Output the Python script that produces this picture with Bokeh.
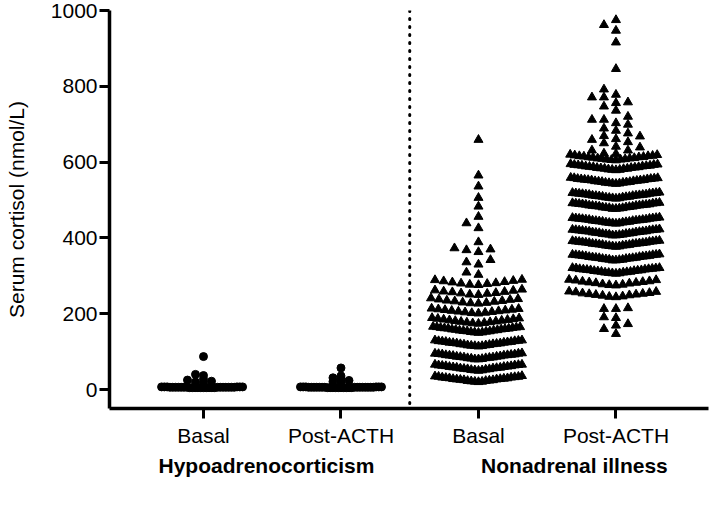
from bokeh.plotting import figure
from bokeh.models import Range1d, FixedTicker, Span, LinearAxis
from bokeh.embed import file_html
from bokeh.resources import INLINE

# ---------------- data ----------------
categories = ["Basal", "Post-ACTH", "Basal", "Post-ACTH"]
groups = ["Hypoadrenocorticism", "Nonadrenal illness"]
y_ticks = [0, 200, 400, 600, 800, 1000]

hypo_basal = [6, 5, 7, 6, 5, 6, 7, 5, 6, 6, 5, 7, 6, 5, 6, 7, 6, 5, 6, 5,
              7, 6, 6, 5, 6, 7, 5, 6, 6, 5,
              20, 22, 18, 25, 27, 37, 40, 87]
hypo_post = [6, 5, 7, 6, 5, 6, 7, 5, 6, 6, 5, 7, 6, 5, 6, 7, 6, 5, 6, 5,
             7, 6, 6, 5, 6, 7, 5, 6, 6, 5, 6,
             19, 21, 24, 28, 31, 36, 57]

nai_basal = [
    20, 21, 21, 22, 23, 23, 24, 25, 25, 26, 27, 27, 28, 28, 29, 30, 30, 31, 32, 32, 33, 34, 34, 35, 36,
    50, 51, 51, 52, 53, 54, 54, 55, 56, 56, 57, 58, 58, 59, 60, 60, 61, 62, 62, 63, 64, 64, 65, 66, 66,
    80, 80, 81, 82, 83, 83, 84, 85, 85, 86, 87, 87, 88, 89, 90, 90, 91, 91, 92, 93, 93, 94, 95, 95, 96,
    114, 115, 115, 116, 117, 117, 118, 119, 120, 120, 121, 122, 122, 123, 124, 124, 125, 126, 126, 127, 128, 128, 129, 130, 130,
    150, 151, 151, 152, 153, 154, 154, 155, 156, 156, 157, 158, 159, 159, 160, 161, 161, 162, 163, 163, 164, 165, 165, 166,
    174, 175, 176, 177, 178, 179, 180, 181, 182, 183, 184, 185, 186, 187, 188, 189,
    201, 202, 203, 204, 205, 206, 207, 208, 209, 210, 211, 212, 213, 214,
    227, 228, 229, 230, 232, 233, 234, 235, 237, 238, 239, 241,
    250, 251, 253, 254, 255, 257, 258, 259, 261, 262, 264,
    276, 277, 279, 280, 281, 283, 284, 286, 287, 289, 290,
    303, 309, 330, 336, 342, 363, 368, 370, 373, 389, 426, 439, 456, 483, 506, 536, 565, 659,
]

nai_post = [
    147, 160, 169, 173, 189, 191, 213, 213, 215,
    244, 245, 246, 248, 249, 250, 251, 252, 253, 254, 255, 257, 258, 259,
    275, 276, 277, 278, 280, 281, 282, 283, 284, 285, 286, 288, 289, 290,
    306, 307, 307, 308, 309, 309, 310, 311, 311, 312, 313, 313, 314, 315, 315, 316, 317, 317, 318, 318, 319, 320, 320, 321, 321,
    341, 341, 342, 343, 343, 344, 345, 345, 346, 347, 347, 348, 348, 349, 350, 350, 351, 352, 352, 353, 353, 354, 355, 355, 356, 356, 357,
    377, 378, 378, 379, 380, 380, 381, 382, 382, 383, 384, 384, 385, 385, 386, 387, 387, 388, 388, 389, 390, 390, 391, 391, 392, 392, 393,
    407, 407, 408, 409, 409, 410, 411, 411, 412, 413, 413, 414, 415, 415, 416, 417, 417, 418, 418, 419, 420, 420, 421, 421, 422, 422, 423,
    438, 439, 439, 440, 441, 441, 442, 443, 443, 444, 445, 445, 446, 446, 447, 448, 448, 449, 449, 450, 451, 451, 452, 452, 453, 453, 454,
    477, 477, 478, 479, 479, 480, 481, 481, 482, 483, 483, 484, 485, 485, 486, 486, 487, 488, 488, 489, 489, 490, 491, 491, 492, 492, 493,
    504, 505, 505, 506, 507, 507, 508, 509, 509, 510, 511, 511, 512, 512, 513, 514, 514, 515, 515, 516, 517, 517, 518, 518, 519, 519, 520,
    543, 544, 544, 545, 546, 546, 547, 548, 548, 549, 550, 550, 551, 552, 552, 553, 553, 554, 555, 555, 556, 556, 557, 558, 558, 559,
    579, 580, 580, 581, 582, 583, 583, 584, 585, 585, 586, 587, 587, 588, 589, 589, 590, 591, 591, 592, 593, 593, 594, 595,
    605, 606, 607, 607, 608, 609, 610, 610, 611, 612, 613, 613, 614, 615, 616, 616, 617, 618, 619, 620,
    622, 623, 631, 631, 639, 641, 650, 653, 659, 661, 668, 669, 676, 683, 689, 699, 703, 712, 712, 720,
    736, 747, 756, 758, 771, 771, 778, 792, 846, 916, 947, 962, 975,
]

# ---------------- layout ----------------
W, H = 709, 505
BL, BR, BT, BB = 109, 1, 10, 97
X0, X1 = 0.3164, 4.673
Y0, Y1 = -50, 1000
PX_PER_X = (W - BL - BR) / (X1 - X0)
PX_PER_Y = (H - BT - BB) / (Y1 - Y0)
FONT = "Liberation Sans"


def _slot(k):
    return ((k + 1) // 2) * (1 if k % 2 == 0 else -1)


def swarm(xc, vals, bin_h, maxw_px, box_w, box_h, grid):
    """Prism-like column scatter: rows of near-equal values spread
    horizontally; crowded rows are compressed to the column width."""
    vs = sorted(vals)
    placed = []
    xs, ys = [], []
    kmax = int((maxw_px / 2) // grid) * 2
    i = 0
    while i < len(vs):
        start = vs[i]
        row = []
        while i < len(vs) and vs[i] < start + bin_h:
            row.append(vs[i])
            i += 1
        n = len(row)
        if n > 1 and (n - 1) * box_w > maxw_px:
            d = maxw_px / (n - 1)
            offs = [_slot(k) * d for k in range(n)]
        else:
            offs = []
            for v in row:
                yp = v * PX_PER_Y
                best, best_hits = 0.0, None
                for k in range(kmax + 1):
                    o = _slot(k) * grid
                    hits = sum(1 for px, py in placed
                               if abs(o - px) < box_w and abs(yp - py) < box_h)
                    if best_hits is None or hits < best_hits:
                        best, best_hits = o, hits
                    if hits == 0:
                        break
                placed.append((best, yp))
                offs.append(best)
        for o, v in zip(offs, row):
            xs.append(xc + o / PX_PER_X)
            ys.append(v)
    return xs, ys


p = figure(width=W, height=H, output_backend="svg", toolbar_location=None,
           x_range=Range1d(X0, X1), y_range=Range1d(Y0, Y1),
           min_border_left=BL, min_border_right=BR, min_border_top=BT,
           min_border_bottom=BB)
p.outline_line_color = None
p.grid.visible = False
p.background_fill_color = "white"

# markers
hx, hy = swarm(1, hypo_basal, 12, 81, 8, 3, 4)
p.scatter(hx, hy, marker="circle", size=8, color="black")
hx, hy = swarm(2, hypo_post, 12, 81, 8, 3, 4)
p.scatter(hx, hy, marker="circle", size=8, color="black")
nx, ny = swarm(3, nai_basal, 17, 87, 12, 7, 6)
p.scatter(nx, ny, marker="triangle", size=9, color="black")
nx, ny = swarm(4, nai_post, 17, 87, 12, 7, 6)
p.scatter(nx, ny, marker="triangle", size=9, color="black")

# dotted separator
sep = 2.5
p.add_layout(Span(location=sep, dimension="height", line_color="black",
                  line_width=3, line_dash="1 7", line_cap="round"))

# axes
def style_axis(ax):
    ax.axis_line_width = 3.5
    ax.axis_line_color = "black"
    ax.major_tick_line_width = 3
    ax.major_tick_line_color = "black"
    ax.major_tick_out = 10
    ax.major_tick_in = 0
    ax.minor_tick_line_color = None
    ax.major_label_text_font = FONT
    ax.major_label_text_font_size = "21px"
    ax.major_label_text_color = "black"


style_axis(p.xaxis[0])
style_axis(p.yaxis[0])

p.yaxis.ticker = FixedTicker(ticks=y_ticks)
p.yaxis.major_label_standoff = 2
p.yaxis.axis_label = "Serum cortisol (nmol/L)"
p.yaxis.axis_label_text_font = FONT
p.yaxis.axis_label_text_font_size = "21px"
p.yaxis.axis_label_text_font_style = "normal"
p.yaxis.axis_label_text_color = "black"
p.yaxis.axis_label_standoff = 20

p.xaxis.ticker = FixedTicker(ticks=[1, 2, 3, 4])
p.xaxis.major_label_overrides = {i + 1: c for i, c in enumerate(categories)}
p.xaxis.major_label_standoff = 5

# group labels as a second, line-less axis below
group_x = [1.458, 3.698]
gax = LinearAxis(ticker=FixedTicker(ticks=group_x),
                 major_label_overrides={gx: g for gx, g in zip(group_x, groups)})
gax.axis_line_color = None
gax.major_tick_line_color = None
gax.minor_tick_line_color = None
gax.major_tick_out = 0
gax.major_tick_in = 0
gax.major_label_standoff = 4
gax.major_label_text_font = FONT
gax.major_label_text_font_size = "21px"
gax.major_label_text_font_style = "bold"
gax.major_label_text_color = "black"
p.add_layout(gax, "below")

open("out.html", "w").write(file_html(p, INLINE))
